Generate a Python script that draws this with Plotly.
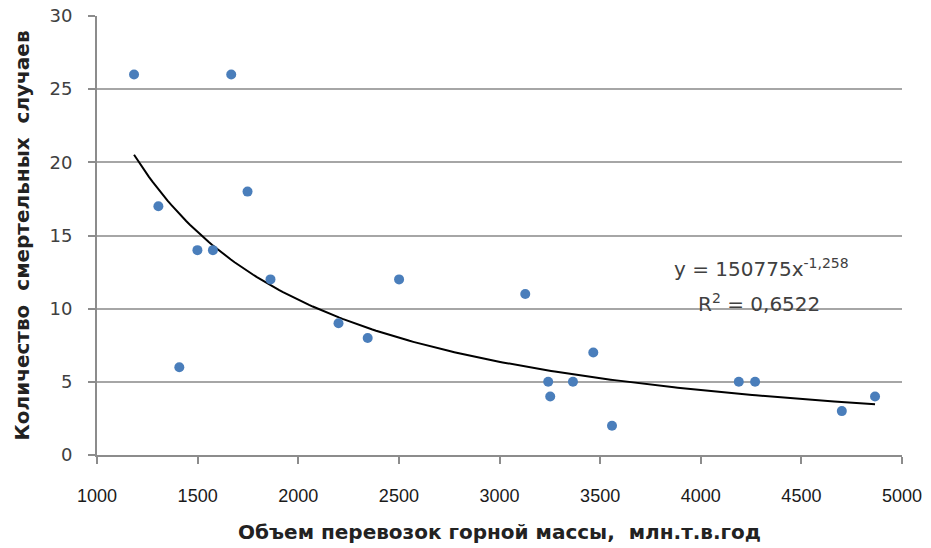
import numpy as np
import plotly.graph_objects as go

# Объем перевозок горной массы (млн.т.в.год) и количество смертельных случаев
volume = [1184, 1667, 1305, 1499, 1576, 1409, 1748, 1862, 2200, 2345, 2501,
          3128, 3242, 3252, 3365, 3466, 3559, 4189, 4270, 4701, 4866]
deaths = [26, 26, 17, 14, 14, 6, 18, 12, 9, 8, 12,
          11, 5, 4, 5, 7, 2, 5, 5, 3, 4]

# Степенная линия тренда y = a * x^b
coef_a = 150775
coef_b = -1.258
r_squared = 0.6522

x_ticks = [1000, 1500, 2000, 2500, 3000, 3500, 4000, 4500, 5000]
y_ticks = [0, 5, 10, 15, 20, 25, 30]

trend_x = np.linspace(min(volume), max(volume), 200)
trend_y = coef_a * trend_x ** coef_b

fig = go.Figure()
fig.add_trace(go.Scatter(
    x=trend_x, y=trend_y, mode="lines",
    line=dict(color="#000000", width=2),
    hoverinfo="skip", showlegend=False,
))
fig.add_trace(go.Scatter(
    x=volume, y=deaths, mode="markers",
    marker=dict(color="#4A7EBB", size=10, line=dict(width=0)),
    showlegend=False,
))

label_font = dict(family="DejaVu Sans", size=20, color="#404040")
fig.add_annotation(
    x=0.825, y=0.425, xref="paper", yref="paper",
    xanchor="center", yanchor="middle",
    text=f"y = {coef_a}x<sup>{str(coef_b).replace('.', ',')}</sup>",
    showarrow=False, font=label_font,
)
fig.add_annotation(
    x=0.822, y=0.346, xref="paper", yref="paper",
    xanchor="center", yanchor="middle",
    text=f"R<sup>2</sup> = {str(r_squared).replace('.', ',')}",
    showarrow=False, font=label_font,
)

fig.update_layout(
    width=931, height=548,
    margin=dict(l=97, r=29, t=16, b=93),
    paper_bgcolor="white", plot_bgcolor="white",
    xaxis=dict(
        range=[1000, 5000], tickvals=x_ticks,
        ticktext=[str(v) for v in x_ticks],
        showgrid=False, zeroline=False, automargin=False,
        showline=True, linecolor="#8c8c8c", linewidth=2,
        ticks="outside", ticklen=7, tickwidth=2, tickcolor="#8c8c8c",
        ticklabelstandoff=16,
        tickfont=dict(family="Liberation Sans", size=18, color="#1a1a1a"),
        title=dict(text="<b>Объем перевозок горной массы,  млн.т.в.год</b>",
                   font=dict(family="DejaVu Sans", size=20, color="#222222"),
                   standoff=20),
    ),
    yaxis=dict(
        range=[0, 30], tickvals=y_ticks,
        showgrid=True, gridcolor="#a6a6a6", gridwidth=2,
        zeroline=False, automargin=False,
        showline=True, linecolor="#8c8c8c", linewidth=2,
        ticks="outside", ticklen=7, tickwidth=2, tickcolor="#8c8c8c",
        ticklabelstandoff=12,
        tickfont=dict(family="DejaVu Sans", size=18, color="#404040"),
        title=dict(text="<b>Количество  смертельных  случаев</b>",
                   font=dict(family="DejaVu Sans", size=20, color="#222222"),
                   standoff=14),
    ),
)

fig.write_html("out.html")
